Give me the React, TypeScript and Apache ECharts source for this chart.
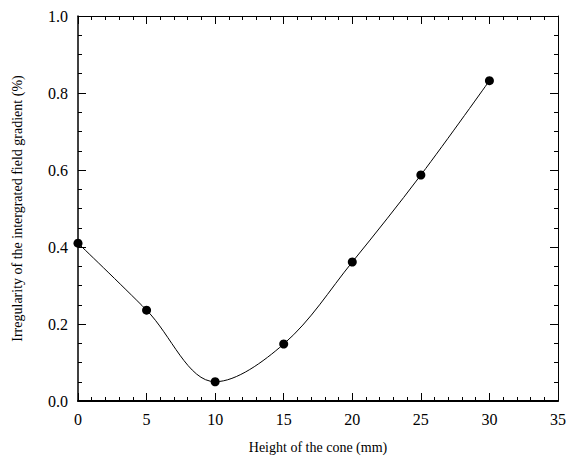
import React, { useEffect, useRef } from "react";
import * as echarts from "echarts";

const heights = [0, 5, 10, 15, 20, 25, 30];
const irregularity = [0.41, 0.236, 0.05, 0.148, 0.361, 0.587, 0.832];

const font = "Liberation Serif";

export default function App() {
  const ref = useRef<HTMLDivElement>(null);
  useEffect(() => {
    const chart = echarts.init(ref.current!, null, { renderer: "svg" });
    const tick = { show: true, inside: true, length: 8, lineStyle: { color: "#000", width: 1 } };
    const minor = { show: true, length: 4, lineStyle: { color: "#000", width: 1 } };
    chart.setOption({
      animation: false,
      backgroundColor: "#fff",
      textStyle: { fontFamily: font },
      grid: { left: 78, right: 8, top: 16, bottom: 64, containLabel: false },
      xAxis: [
        {
          type: "value",
          min: 0,
          max: 35,
          interval: 5,
          axisLine: { show: true, onZero: false, lineStyle: { color: "#000", width: 2 } },
          axisTick: tick,
          minorTick: { ...minor, splitNumber: 5 },
          splitLine: { show: false },
          axisLabel: { color: "#000", fontFamily: font, fontSize: 16, margin: 10 },
          name: "Height of the cone (mm)",
          nameLocation: "middle",
          nameGap: 39,
          nameTextStyle: { color: "#000", fontFamily: font, fontSize: 14 },
        },
        {
          type: "value",
          position: "top",
          min: 0,
          max: 35,
          interval: 5,
          axisLine: { show: true, onZero: false, lineStyle: { color: "#000", width: 1 } },
          axisTick: tick,
          minorTick: { ...minor, splitNumber: 5 },
          splitLine: { show: false },
          axisLabel: { show: false },
        },
      ],
      yAxis: [
        {
          type: "value",
          min: 0,
          max: 1.0,
          interval: 0.2,
          axisLine: { show: true, onZero: false, lineStyle: { color: "#000", width: 1.5 } },
          axisTick: tick,
          minorTick: { ...minor, splitNumber: 4 },
          splitLine: { show: false },
          axisLabel: {
            color: "#000",
            fontFamily: font,
            fontSize: 16,
            margin: 10,
            formatter: (v: number) => v.toFixed(1),
          },
          name: "Irregularity of the intergrated field gradient (%)",
          nameLocation: "middle",
          nameGap: 54,
          nameTextStyle: { color: "#000", fontFamily: font, fontSize: 14 },
        },
        {
          type: "value",
          position: "right",
          min: 0,
          max: 1.0,
          interval: 0.2,
          axisLine: { show: true, onZero: false, lineStyle: { color: "#000", width: 1 } },
          axisTick: tick,
          minorTick: { ...minor, splitNumber: 4 },
          splitLine: { show: false },
          axisLabel: { show: false },
        },
      ],
      series: [
        {
          type: "line",
          data: heights.map((h, i) => [h, irregularity[i]]),
          smooth: 0.35,
          symbol: "circle",
          symbolSize: 9,
          itemStyle: { color: "#000" },
          lineStyle: { color: "#000", width: 1 },
        },
      ],
    });
    return () => chart.dispose();
  }, []);
  return <div ref={ref} style={{ width: 569, height: 465, position: "absolute", left: 0, top: 0 }} />;
}
